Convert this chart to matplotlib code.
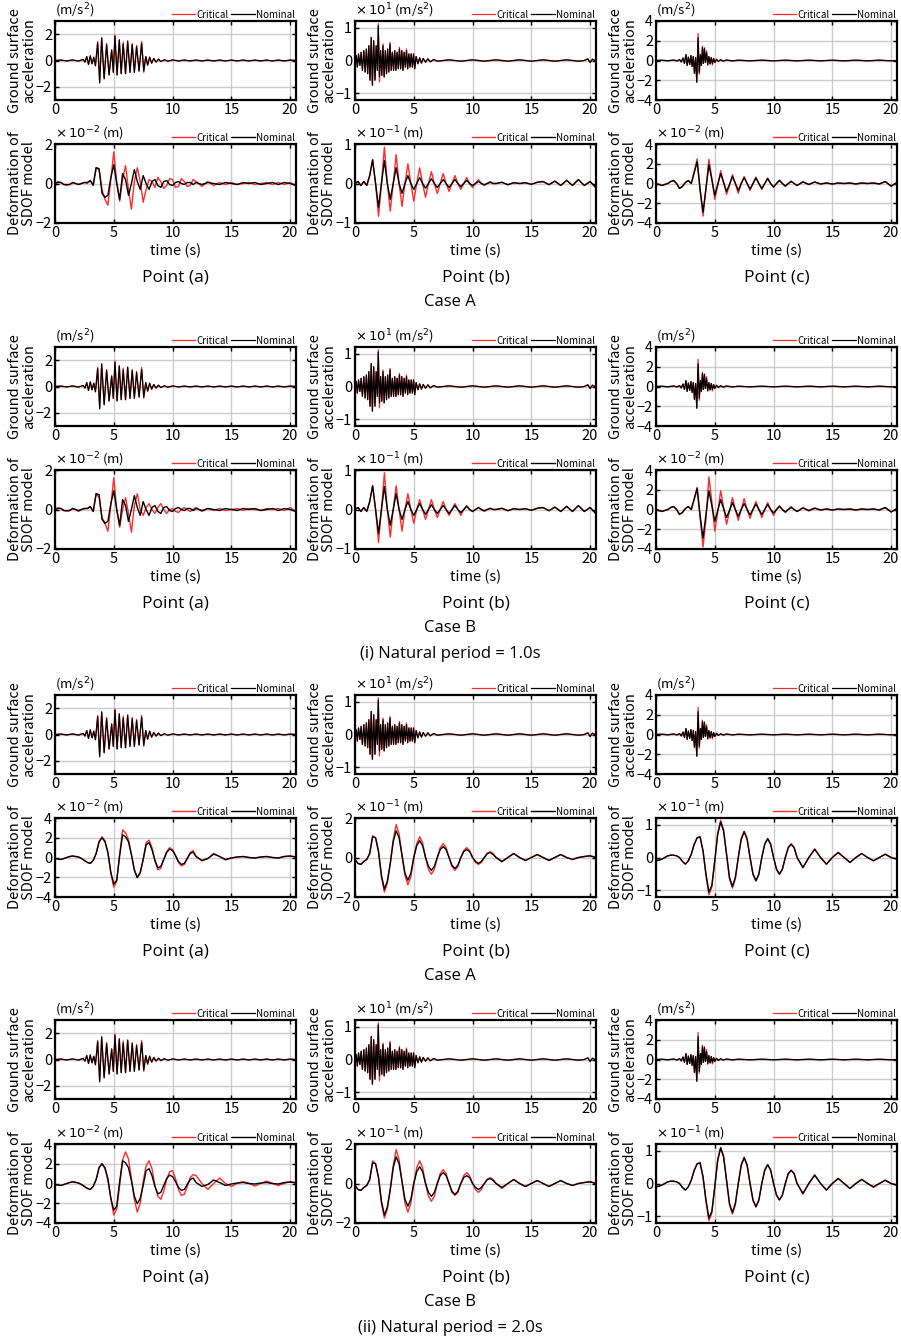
import numpy as np
import matplotlib
matplotlib.use('Agg')
import matplotlib.pyplot as plt

plt.rcParams['font.family'] = ['Noto Sans CJK JP', 'DejaVu Sans']
plt.rcParams['mathtext.fontset'] = 'dejavusans'

# ---------------- ground surface acceleration ----------------
# point (a), m/s2
acc_a_t = [0.0, 0.5, 1.0, 1.5, 2.0, 2.4, 2.55, 2.7, 2.85, 3.0, 3.15, 3.3, 3.44,
           3.63, 3.80, 3.97, 4.18, 4.39, 4.60, 4.82, 4.96, 5.10, 5.28, 5.47, 5.63,
           5.80, 6.00, 6.18, 6.38, 6.57, 6.75, 6.94, 7.15, 7.37, 7.55, 7.72, 7.88,
           8.05, 8.22, 8.40, 8.60, 8.80, 9.00, 9.30, 9.60, 10.0, 10.5, 11.0, 11.5,
           12.0, 12.5, 13.0, 13.5, 14.0, 14.5, 15.0, 15.5, 16.0, 16.5, 17.0, 17.5,
           18.0, 18.5, 19.0, 19.5, 20.0, 20.5]
acc_a_nom = [0.0, 0.03, -0.03, 0.04, -0.04, 0.08, -0.12, 0.3, -0.3, 0.35, -0.25, 0.25, -0.4,
             1.35, -1.7, 1.7, -1.4, 1.2, -1.1, 0.8, -0.9, 1.85, -1.1, 1.55, -1.0,
             1.25, -1.0, 1.45, -0.9, 1.2, -0.9, 1.05, -0.8, 1.3, -0.8, 0.3, -0.35,
             0.25, -0.2, 0.15, -0.12, 0.1, -0.08, 0.06, -0.05, 0.04, -0.03, 0.03, -0.03,
             0.03, -0.03, 0.03, -0.03, 0.03, -0.03, 0.03, -0.03, 0.03, -0.03, 0.03, -0.03,
             0.03, -0.03, 0.03, -0.03, 0.03, 0.0]
acc_a_crit = [0.0, 0.03, -0.03, 0.04, -0.04, 0.08, -0.12, 0.3, -0.3, 0.35, -0.25, 0.25, -0.4,
              1.45, -1.6, 1.75, -1.3, 1.3, -1.1, 0.8, -0.9, 1.95, -1.1, 1.6, -1.0,
              1.4, -1.0, 1.5, -0.9, 1.3, -0.9, 1.15, -0.8, 1.45, -0.9, 0.3, -0.35,
              0.25, -0.2, 0.15, -0.12, 0.1, -0.08, 0.06, -0.05, 0.04, -0.03, 0.03, -0.03,
              0.03, -0.03, 0.03, -0.03, 0.03, -0.03, 0.03, -0.03, 0.03, -0.03, 0.03, -0.03,
              0.03, -0.03, 0.03, -0.03, 0.03, 0.0]

# point (b), x10 m/s2
acc_b_t = [0.0, 0.1, 0.2, 0.3, 0.42, 0.52, 0.63, 0.75, 0.86, 0.97, 1.08, 1.18, 1.28,
           1.38, 1.48, 1.59, 1.70, 1.80, 1.90, 1.98, 2.08, 2.18, 2.28, 2.38, 2.48,
           2.58, 2.68, 2.78, 2.88, 2.98, 3.08, 3.18, 3.28, 3.38, 3.48, 3.58, 3.68,
           3.78, 3.88, 3.98, 4.08, 4.18, 4.28, 4.38, 4.48, 4.58, 4.68, 4.78, 4.88,
           4.98, 5.08, 5.20, 5.35, 5.50, 5.65, 5.80, 6.00, 6.20, 6.40, 6.70, 7.00,
           8.0, 9.0, 10.0, 11.0, 12.0, 13.0, 14.0, 15.0, 16.0, 17.0, 18.0, 19.0,
           19.5, 19.8, 20.0, 20.2, 20.5]
acc_b_nom = [0.0, 0.15, -0.2, 0.2, -0.15, 0.25, -0.3, 0.3, -0.35, 0.35, -0.4, 0.45, -0.6,
             0.7, -0.75, 0.6, -0.6, 0.45, -0.3, 1.05, -0.5, 0.3, -0.45, 0.45, -0.5,
             0.3, -0.4, 0.35, -0.35, 0.5, -0.3, 0.25, -0.3, 0.3, -0.3, 0.25, -0.25,
             0.35, -0.25, 0.3, -0.3, 0.25, -0.2, 0.3, -0.25, 0.2, -0.2, 0.2, -0.2,
             0.2, -0.25, 0.12, -0.1, 0.08, -0.08, 0.06, -0.05, 0.05, -0.04, 0.03, -0.02,
             0.02, -0.02, 0.02, -0.02, 0.02, -0.02, 0.02, -0.02, 0.02, -0.02, 0.02, -0.02,
             0.0, 0.05, -0.06, 0.04, -0.02]
acc_b_crit = [0.0, 0.15, -0.2, 0.2, -0.15, 0.25, -0.3, 0.3, -0.35, 0.35, -0.4, 0.45, -0.6,
              0.7, -0.75, 0.6, -0.6, 0.45, -0.3, 1.12, -0.65, 0.3, -0.45, 0.5, -0.5,
              0.3, -0.4, 0.35, -0.35, 0.55, -0.3, 0.25, -0.3, 0.3, -0.3, 0.25, -0.25,
              0.4, -0.25, 0.3, -0.3, 0.25, -0.2, 0.35, -0.25, 0.2, -0.2, 0.2, -0.2,
              0.2, -0.25, 0.12, -0.1, 0.08, -0.08, 0.06, -0.05, 0.05, -0.04, 0.03, -0.02,
              0.02, -0.02, 0.02, -0.02, 0.02, -0.02, 0.02, -0.02, 0.02, -0.02, 0.02, -0.02,
              0.0, 0.05, -0.06, 0.04, -0.02]

# point (c), m/s2
acc_c_t = [0.0, 0.5, 1.0, 1.5, 1.8, 2.0, 2.15, 2.3, 2.42, 2.55, 2.65, 2.75, 2.87,
           2.97, 3.07, 3.17, 3.27, 3.37, 3.47, 3.58, 3.68, 3.78, 3.86, 3.95, 4.03,
           4.12, 4.20, 4.30, 4.40, 4.50, 4.60, 4.70, 4.80, 4.90, 5.00, 5.15, 5.30,
           5.50, 5.70, 6.00, 6.50, 7.0, 8.0, 9.0, 10.0, 11.0, 12.0, 13.0, 14.0,
           15.0, 16.0, 17.0, 18.0, 19.0, 20.0, 20.5]
acc_c_nom = [0.0, 0.03, -0.03, 0.05, -0.05, 0.1, -0.15, 0.25, -0.3, 0.6, -0.5, 0.35, -0.4,
             0.5, -0.6, 0.4, -1.3, 0.3, -2.2, 2.3, -1.2, 0.6, -0.5, 1.3, -0.3,
             1.2, -0.2, 0.8, -0.4, 0.4, -0.35, 0.3, -0.3, 0.2, -0.2, 0.12, -0.1,
             0.08, -0.06, 0.05, -0.04, 0.03, -0.03, 0.03, -0.03, 0.03, -0.03, 0.03, -0.03,
             0.03, -0.03, 0.03, -0.03, 0.03, -0.03, 0.0]
acc_c_crit = [0.0, 0.03, -0.03, 0.05, -0.05, 0.1, -0.15, 0.25, -0.3, 0.6, -0.5, 0.35, -0.4,
              0.5, -0.6, 0.4, -1.3, 0.3, -2.2, 2.75, -1.4, 0.6, -0.5, 1.45, -0.3,
              1.3, -0.2, 1.0, -0.5, 0.4, -0.35, 0.3, -0.45, 0.2, -0.2, 0.12, -0.1,
              0.08, -0.06, 0.05, -0.04, 0.03, -0.03, 0.03, -0.03, 0.03, -0.03, 0.03, -0.03,
              0.03, -0.03, 0.03, -0.03, 0.03, -0.03, 0.0]

# ---------------- deformation of SDOF model ----------------
# sampled every 0.25 s up to 12 s, then every 0.5 s
t_def = np.concatenate([np.arange(0, 12, 0.25), np.arange(12, 20.51, 0.5)])

# natural period 1.0 s
d1_nom_a = [0.0, 0.05, 0.05, -0.05, -0.05, -0.05, 0.05, 0.0,
            -0.05, 0.0, 0.05, 0.05, 0.15, -0.1, 0.8, 0.75,
            -0.5, -0.7, -0.6, 0.3, 0.95, 0.0, -0.8, 0.5,
            0.2, -0.6, 0.0, 0.7, 0.1, -0.3, 0.4, 0.0,
            -0.3, 0.1, 0.2, -0.1, -0.2, 0.1, 0.15, -0.05,
            -0.1, 0.05, 0.1, 0.0, -0.05, 0.05, 0.05, -0.05,
            0.05, -0.05, 0.05, 0.0, -0.05, 0.05, 0.0, -0.05, 0.05,
            0.0, 0.05, -0.05, 0.0, 0.05, -0.05, 0.05, 0.0, -0.1]
d1A_crit_a = [0.0, 0.1, 0.05, -0.05, -0.1, -0.05, 0.05, 0.0,
              -0.05, 0.0, 0.05, 0.0, 0.15, -0.05, 0.8, 0.7,
              -0.3, -0.8, -1.1, 0.2, 1.6, 0.1, -0.9, 0.2,
              0.9, -0.3, -1.3, 0.1, 0.8, 0.1, -0.95, -0.3,
              0.2, 0.1, -0.2, 0.3, 0.1, -0.25, -0.1, 0.25,
              0.2, -0.2, -0.15, 0.25, 0.1, -0.15, -0.1, 0.2,
              0.1, -0.15, 0.1, -0.1, 0.05, -0.05, 0.05, -0.05, 0.0,
              0.05, -0.05, 0.0, 0.05, -0.05, 0.05, -0.05, 0.05, -0.1]
d1B_crit_a = [0.0, 0.1, 0.05, -0.05, -0.1, -0.05, 0.05, 0.0,
              -0.1, 0.0, 0.05, 0.05, 0.15, -0.1, 0.8, 0.6,
              -0.4, -0.7, -1.1, 0.2, 1.6, 0.0, -0.9, 0.0,
              0.6, -0.2, -1.15, 0.2, 0.8, 0.0, -0.3, 0.1,
              0.3, 0.0, -0.2, 0.1, 0.3, 0.0, -0.2, 0.0,
              0.05, -0.1, -0.15, 0.0, 0.1, 0.0, -0.1, 0.0,
              0.1, -0.1, 0.05, -0.05, 0.05, -0.05, 0.0, 0.05, -0.05,
              0.05, 0.0, -0.05, 0.05, 0.0, 0.05, -0.05, 0.1, -0.1]

d1_nom_b = [0.0, 0.05, -0.05, 0.05, -0.05, 0.2, 0.6, 0.0,
            -0.6, 0.0, 0.58, 0.0, -0.4, 0.0, 0.4, 0.0,
            -0.25, 0.0, 0.2, 0.0, -0.15, 0.0, 0.15, 0.0,
            -0.12, 0.0, 0.12, 0.0, -0.1, 0.0, 0.1, 0.0,
            -0.1, 0.0, 0.1, 0.0, -0.08, 0.0, 0.08, 0.0,
            -0.05, 0.0, 0.05, 0.0, -0.03, 0.0, 0.03, 0.0,
            0.0, 0.03, -0.03, 0.02, 0.0, 0.02, -0.02, 0.03, 0.05,
            -0.03, 0.06, -0.05, 0.08, -0.05, 0.1, -0.05, 0.05, -0.1]
d1A_crit_b = [0.0, 0.05, -0.05, 0.05, -0.05, 0.2, 0.6, 0.0,
              -0.83, 0.0, 0.92, 0.0, -0.7, 0.0, 0.73, 0.0,
              -0.58, 0.0, 0.5, 0.0, -0.45, 0.0, 0.4, 0.0,
              -0.35, 0.0, 0.3, 0.0, -0.25, 0.0, 0.25, 0.0,
              -0.2, 0.0, 0.2, 0.0, -0.15, 0.0, 0.15, 0.0,
              -0.1, 0.0, 0.1, 0.0, -0.05, 0.0, 0.05, 0.0,
              0.0, 0.03, -0.03, 0.02, 0.0, 0.02, -0.02, 0.03, 0.05,
              -0.03, 0.06, -0.05, 0.08, -0.05, 0.1, -0.05, 0.05, -0.12]
d1B_crit_b = [0.0, 0.05, -0.05, 0.05, -0.05, 0.2, 0.6, 0.0,
              -0.83, 0.0, 0.93, 0.0, -0.7, 0.0, 0.6, 0.0,
              -0.55, 0.0, 0.4, 0.0, -0.35, 0.0, 0.25, 0.0,
              -0.25, 0.0, 0.25, 0.0, -0.2, 0.0, 0.2, 0.0,
              -0.15, 0.0, 0.15, 0.0, -0.15, 0.0, 0.1, 0.0,
              -0.05, 0.0, 0.05, 0.0, -0.05, 0.0, 0.03, 0.0,
              0.0, 0.03, -0.03, 0.02, 0.0, 0.02, -0.02, 0.03, 0.05,
              -0.03, 0.06, -0.05, 0.08, -0.05, 0.1, -0.05, 0.05, -0.12]

d1_nom_c = [0.0, -0.1, -0.2, -0.1, 0.0, 0.2, 0.3, 0.0,
            -0.5, -0.3, 0.1, 0.3, 0.0, 1.1, 2.2, -0.6,
            -2.9, -0.5, 1.9, 0.4, -1.2, -0.1, 1.0, 0.1,
            -0.8, -0.1, 0.7, 0.0, -0.7, 0.0, 0.6, 0.0,
            -0.55, 0.0, 0.55, 0.0, -0.5, 0.0, 0.5, 0.0,
            -0.35, 0.0, 0.3, 0.0, -0.25, 0.0, 0.2, 0.0,
            -0.2, 0.15, -0.1, 0.15, -0.05, 0.05, -0.05, 0.05, 0.0,
            0.05, -0.05, 0.05, 0.0, 0.05, -0.05, 0.2, -0.25, 0.1]
d1A_crit_c = [0.0, -0.1, -0.2, -0.1, 0.0, 0.2, 0.3, 0.0,
              -0.5, -0.3, 0.1, 0.3, 0.0, 1.2, 2.5, -0.6,
              -3.3, -0.5, 2.45, 0.5, -1.6, -0.2, 1.3, 0.1,
              -1.1, -0.2, 0.9, 0.0, -1.0, 0.0, 0.7, 0.0,
              -0.7, 0.0, 0.65, 0.0, -0.6, 0.0, 0.55, 0.0,
              -0.4, 0.0, 0.35, 0.0, -0.3, 0.0, 0.25, 0.0,
              -0.2, 0.2, -0.1, 0.15, -0.05, 0.05, -0.05, 0.05, 0.0,
              0.05, -0.05, 0.05, 0.0, 0.05, -0.05, 0.2, -0.3, 0.1]
d1B_crit_c = [0.0, -0.1, -0.2, -0.1, 0.0, 0.2, 0.3, 0.0,
              -0.5, -0.3, 0.1, 0.3, 0.0, 1.0, 2.0, -0.8,
              -3.8, -1.0, 3.3, 0.8, -2.2, -0.3, 1.9, 0.2,
              -1.5, -0.2, 1.2, 0.0, -1.1, 0.0, 1.1, 0.0,
              -0.9, 0.0, 0.8, 0.0, -0.8, 0.0, 0.7, 0.0,
              -0.6, 0.0, 0.4, 0.0, -0.3, 0.0, 0.3, 0.0,
              -0.2, 0.2, -0.15, 0.1, -0.05, 0.05, -0.05, 0.05, 0.0,
              0.05, -0.05, 0.05, 0.0, 0.05, -0.05, 0.2, -0.25, 0.1]

# natural period 2.0 s
d2_nom_a = [-0.1, -0.15, -0.2, -0.1, 0.0, 0.1, 0.15, 0.1,
            0.05, -0.1, -0.3, -0.5, -0.6, -0.3, 0.4, 1.6,
            2.0, 1.6, 0.5, -1.5, -2.7, -2.3, 0.2, 2.3,
            2.1, 1.6, 0.3, -1.3, -2.05, -1.5, -0.2, 1.3,
            1.5, 0.8, -0.3, -1.05, -0.9, -0.2, 0.5, 0.85,
            0.7, 0.2, -0.4, -0.7, -0.6, -0.1, 0.4, 0.55,
            0.1, -0.3, -0.1, 0.35, 0.1, -0.2, -0.05, 0.05, 0.1,
            0.0, -0.05, 0.05, 0.1, 0.0, -0.05, 0.1, 0.15, 0.05]
d2A_crit_a = [-0.1, -0.15, -0.2, -0.1, 0.0, 0.1, 0.15, 0.1,
              0.05, -0.1, -0.3, -0.5, -0.6, -0.3, 0.4, 1.6,
              2.1, 1.7, 0.5, -1.6, -3.0, -2.4, 0.3, 2.8,
              2.5, 1.8, 0.3, -1.2, -2.0, -1.6, -0.2, 1.5,
              1.75, 1.0, -0.3, -1.25, -1.1, -0.2, 0.6, 1.0,
              0.8, 0.2, -0.5, -0.85, -0.7, -0.1, 0.5, 0.7,
              0.1, -0.35, -0.1, 0.4, 0.1, -0.25, -0.05, 0.05, 0.1,
              0.0, -0.05, 0.05, 0.1, 0.0, -0.05, 0.1, 0.15, 0.05]
d2B_crit_a = [-0.1, -0.15, -0.2, -0.1, 0.0, 0.1, 0.2, 0.15,
              0.05, -0.1, -0.3, -0.5, -0.6, -0.3, 0.4, 1.6,
              2.0, 1.5, 0.3, -1.5, -3.2, -2.6, -0.2, 2.4,
              3.2, 2.5, 0.5, -1.6, -2.9, -2.0, 0.2, 1.8,
              2.3, 1.5, -0.2, -1.3, -1.6, -0.8, 0.4, 1.2,
              1.3, 0.5, -0.6, -1.2, -1.1, -0.3, 0.6, 0.9,
              0.8, 0.0, -0.6, 0.0, 0.55, 0.0, -0.3, 0.0, 0.2,
              0.0, -0.25, 0.0, 0.25, 0.0, -0.2, 0.0, 0.2, 0.1]

d2_nom_b = [-0.1, -0.3, -0.35, -0.2, -0.1, 0.2, 1.05, 1.0,
            0.3, -0.9, -1.6, -1.2, -0.3, 0.8, 1.35, 1.0,
            0.1, -0.8, -1.15, -0.8, 0.0, 0.6, 0.85, 0.6,
            0.0, -0.45, -0.65, -0.45, 0.0, 0.4, 0.55, 0.4,
            0.0, -0.4, -0.55, -0.4, 0.0, 0.3, 0.4, 0.3,
            0.0, -0.2, -0.3, -0.2, 0.0, 0.2, 0.25, 0.15,
            0.0, -0.2, 0.0, 0.2, 0.0, -0.15, 0.0, 0.15, 0.0,
            -0.15, 0.0, 0.15, 0.0, -0.1, 0.0, 0.05, 0.08, 0.0]
d2A_crit_b = [-0.1, -0.3, -0.35, -0.2, -0.1, 0.2, 1.1, 1.0,
              0.3, -1.0, -1.75, -1.3, -0.3, 0.9, 1.67, 1.2,
              0.1, -0.9, -1.38, -1.0, 0.0, 0.7, 1.05, 0.75,
              0.0, -0.6, -0.85, -0.6, 0.0, 0.5, 0.7, 0.5,
              0.0, -0.45, -0.65, -0.45, 0.0, 0.35, 0.5, 0.35,
              0.0, -0.25, -0.35, -0.25, 0.0, 0.2, 0.3, 0.2,
              0.0, -0.22, 0.0, 0.2, 0.0, -0.15, 0.0, 0.15, 0.0,
              -0.15, 0.0, 0.15, 0.0, -0.1, 0.0, 0.05, 0.1, 0.0]
d2B_crit_b = [-0.1, -0.3, -0.35, -0.2, -0.1, 0.2, 1.15, 1.0,
              0.3, -1.0, -1.75, -1.3, -0.3, 0.9, 1.72, 1.2,
              0.1, -1.0, -1.45, -1.0, 0.0, 0.8, 1.15, 0.8,
              0.0, -0.65, -0.9, -0.65, 0.0, 0.5, 0.7, 0.5,
              0.0, -0.45, -0.6, -0.45, 0.0, 0.4, 0.55, 0.4,
              0.0, -0.3, -0.45, -0.3, 0.0, 0.2, 0.3, 0.2,
              0.0, -0.25, 0.0, 0.2, 0.0, -0.15, 0.0, 0.15, 0.0,
              -0.15, 0.0, 0.15, 0.0, -0.1, 0.0, 0.05, 0.1, 0.0]

d2_nom_c = [-0.1, -0.08, -0.05, 0.0, 0.05, 0.07, 0.07, 0.05,
            0.0, -0.12, -0.2, -0.1, 0.1, 0.4, 0.6, 0.62,
            0.2, -0.5, -1.05, -0.85, -0.1, 0.7, 1.08, 0.8,
            0.1, -0.6, -0.88, -0.6, 0.0, 0.55, 0.78, 0.55,
            0.0, -0.5, -0.7, -0.5, 0.0, 0.4, 0.57, 0.4,
            0.0, -0.35, -0.5, -0.35, 0.0, 0.3, 0.4, 0.3,
            0.0, -0.3, 0.0, 0.25, 0.0, -0.2, 0.0, 0.15, 0.0,
            -0.15, 0.0, 0.12, 0.0, -0.1, 0.0, 0.1, 0.0, -0.05]
d2A_crit_c = [-0.1, -0.08, -0.05, 0.0, 0.05, 0.07, 0.07, 0.05,
              0.0, -0.12, -0.2, -0.1, 0.1, 0.4, 0.6, 0.64,
              0.2, -0.55, -1.13, -0.9, -0.1, 0.75, 1.13, 0.85,
              0.1, -0.65, -0.93, -0.65, 0.0, 0.58, 0.8, 0.58,
              0.0, -0.52, -0.72, -0.52, 0.0, 0.42, 0.58, 0.42,
              0.0, -0.37, -0.52, -0.37, 0.0, 0.3, 0.42, 0.3,
              0.0, -0.32, 0.0, 0.26, 0.0, -0.21, 0.0, 0.16, 0.0,
              -0.15, 0.0, 0.12, 0.0, -0.1, 0.0, 0.1, 0.0, -0.05]
d2B_crit_c = [-0.1, -0.08, -0.05, 0.0, 0.05, 0.07, 0.07, 0.05,
              0.0, -0.12, -0.2, -0.1, 0.1, 0.4, 0.6, 0.65,
              0.2, -0.55, -1.13, -0.9, -0.1, 0.75, 1.1, 0.85,
              0.1, -0.65, -0.93, -0.65, 0.0, 0.58, 0.8, 0.58,
              0.0, -0.52, -0.72, -0.52, 0.0, 0.42, 0.58, 0.42,
              0.0, -0.36, -0.5, -0.36, 0.0, 0.3, 0.4, 0.3,
              0.0, -0.32, 0.0, 0.27, 0.0, -0.2, 0.0, 0.16, 0.0,
              -0.15, 0.0, 0.13, 0.0, -0.12, 0.0, 0.1, 0.0, -0.05]

point_labels = ['Point (a)', 'Point (b)', 'Point (c)']
case_labels = ['Case A', 'Case B', 'Case A', 'Case B']
period_labels = ['(i) Natural period = 1.0s', '(ii) Natural period = 2.0s']

acc_units = ['(m/s$^2$)', r'$\times\,10^1$ (m/s$^2$)', '(m/s$^2$)']
acc_ylims = [(-3, 3), (-1.2, 1.2), (-4, 4)]
acc_yticks = [[-2, 0, 2], [-1, 0, 1], [-4, -2, 0, 2, 4]]

def_units = {
    '1.0': [r'$\times\,10^{-2}$ (m)', r'$\times\,10^{-1}$ (m)', r'$\times\,10^{-2}$ (m)'],
    '2.0': [r'$\times\,10^{-2}$ (m)', r'$\times\,10^{-1}$ (m)', r'$\times\,10^{-1}$ (m)'],
}
def_ylims = {'1.0': [(-2, 2), (-1, 1), (-4, 4)], '2.0': [(-4, 4), (-2, 2), (-1.2, 1.2)]}
def_yticks = {'1.0': [[-2, 0, 2], [-1, 0, 1], [-4, -2, 0, 2, 4]],
              '2.0': [[-4, -2, 0, 2, 4], [-2, 0, 2], [-1, 0, 1]]}

acc_t = [acc_a_t, acc_b_t, acc_c_t]
acc_nom = [acc_a_nom, acc_b_nom, acc_c_nom]
acc_crit = [acc_a_crit, acc_b_crit, acc_c_crit]
def_nom = {'1.0': [d1_nom_a, d1_nom_b, d1_nom_c], '2.0': [d2_nom_a, d2_nom_b, d2_nom_c]}
def_crit = {('1.0', 'A'): [d1A_crit_a, d1A_crit_b, d1A_crit_c],
            ('1.0', 'B'): [d1B_crit_a, d1B_crit_b, d1B_crit_c],
            ('2.0', 'A'): [d2A_crit_a, d2A_crit_b, d2A_crit_c],
            ('2.0', 'B'): [d2B_crit_a, d2B_crit_b, d2B_crit_c]}
groups = [('1.0', 'A'), ('1.0', 'B'), ('2.0', 'A'), ('2.0', 'B')]

# layout in pixels
W, H = 901, 1339
cols = [55, 355, 656]
AW, AH = 241, 79
acc_tops = [21, 347, 695, 1020]
def_tops = [144, 470, 818, 1144]
RED = '#ff2b2b'


def box(x, y, w, h):
    return [x / W, 1 - (y + h) / H, w / W, h / H]


def panel(fig, x, y, t, crit, nom, ylim, yticks, unit, ylabel, xlabel=None, lw=1.0):
    ax = fig.add_axes(box(x, y, AW, AH))
    ax.plot(t, crit, color=RED, lw=lw, label='Critical')
    ax.plot(t, nom, color='black', lw=lw, label='Nominal')
    ax.set_xlim(0, 20.5)
    ax.set_ylim(ylim)
    ax.set_xticks([0, 5, 10, 15, 20])
    ax.set_yticks(yticks)
    ax.grid(color='#cccccc', lw=1.0)
    ax.set_axisbelow(True)
    ax.tick_params(direction='in', top=True, right=True, length=3, width=1,
                   labelsize=10.5, pad=2)
    for s in ax.spines.values():
        s.set_linewidth(1.6)
    ax.legend(loc='lower right', bbox_to_anchor=(1.0, 1.0), ncol=2, frameon=False,
              fontsize=7, handlelength=2.4, handletextpad=0.1, columnspacing=0.3,
              borderaxespad=0.05, borderpad=0.1)
    ax.text(0.0, 1.01, unit, transform=ax.transAxes, ha='left', va='bottom', fontsize=9.5)
    fig.text((x - 33) / W, 1 - (y + AH / 2) / H, ylabel, rotation=90, ha='center',
             va='center', fontsize=10.5, linespacing=1.05)
    if xlabel:
        ax.set_xlabel(xlabel, fontsize=10.5, labelpad=3)
    return ax


fig = plt.figure(figsize=(W / 100, H / 100), dpi=100)

for g, (per, case) in enumerate(groups):
    for j in range(3):
        panel(fig, cols[j], acc_tops[g], acc_t[j], acc_crit[j], acc_nom[j],
              acc_ylims[j], acc_yticks[j], acc_units[j], 'Ground surface\nacceleration',
              lw=0.9)
        panel(fig, cols[j], def_tops[g], t_def, def_crit[(per, case)][j], def_nom[per][j],
              def_ylims[per][j], def_yticks[per][j], def_units[per][j],
              'Deformation of\nSDOF model', xlabel='time (s)')
        fig.text((cols[j] + AW / 2) / W, 1 - (def_tops[g] + 133) / H, point_labels[j],
                 ha='center', va='center', fontsize=12.5, family=['Open Sans', 'DejaVu Sans'])
    fig.text(450 / W, 1 - (def_tops[g] + 158) / H, case_labels[g], ha='center',
             va='center', fontsize=12, family=['Open Sans', 'DejaVu Sans'])
    if case == 'B':
        fig.text(450 / W, 1 - (def_tops[g] + 184) / H, period_labels[g // 2], ha='center',
                 va='center', fontsize=12, family=['Open Sans', 'DejaVu Sans'])

fig.savefig('out.png', dpi=100)
